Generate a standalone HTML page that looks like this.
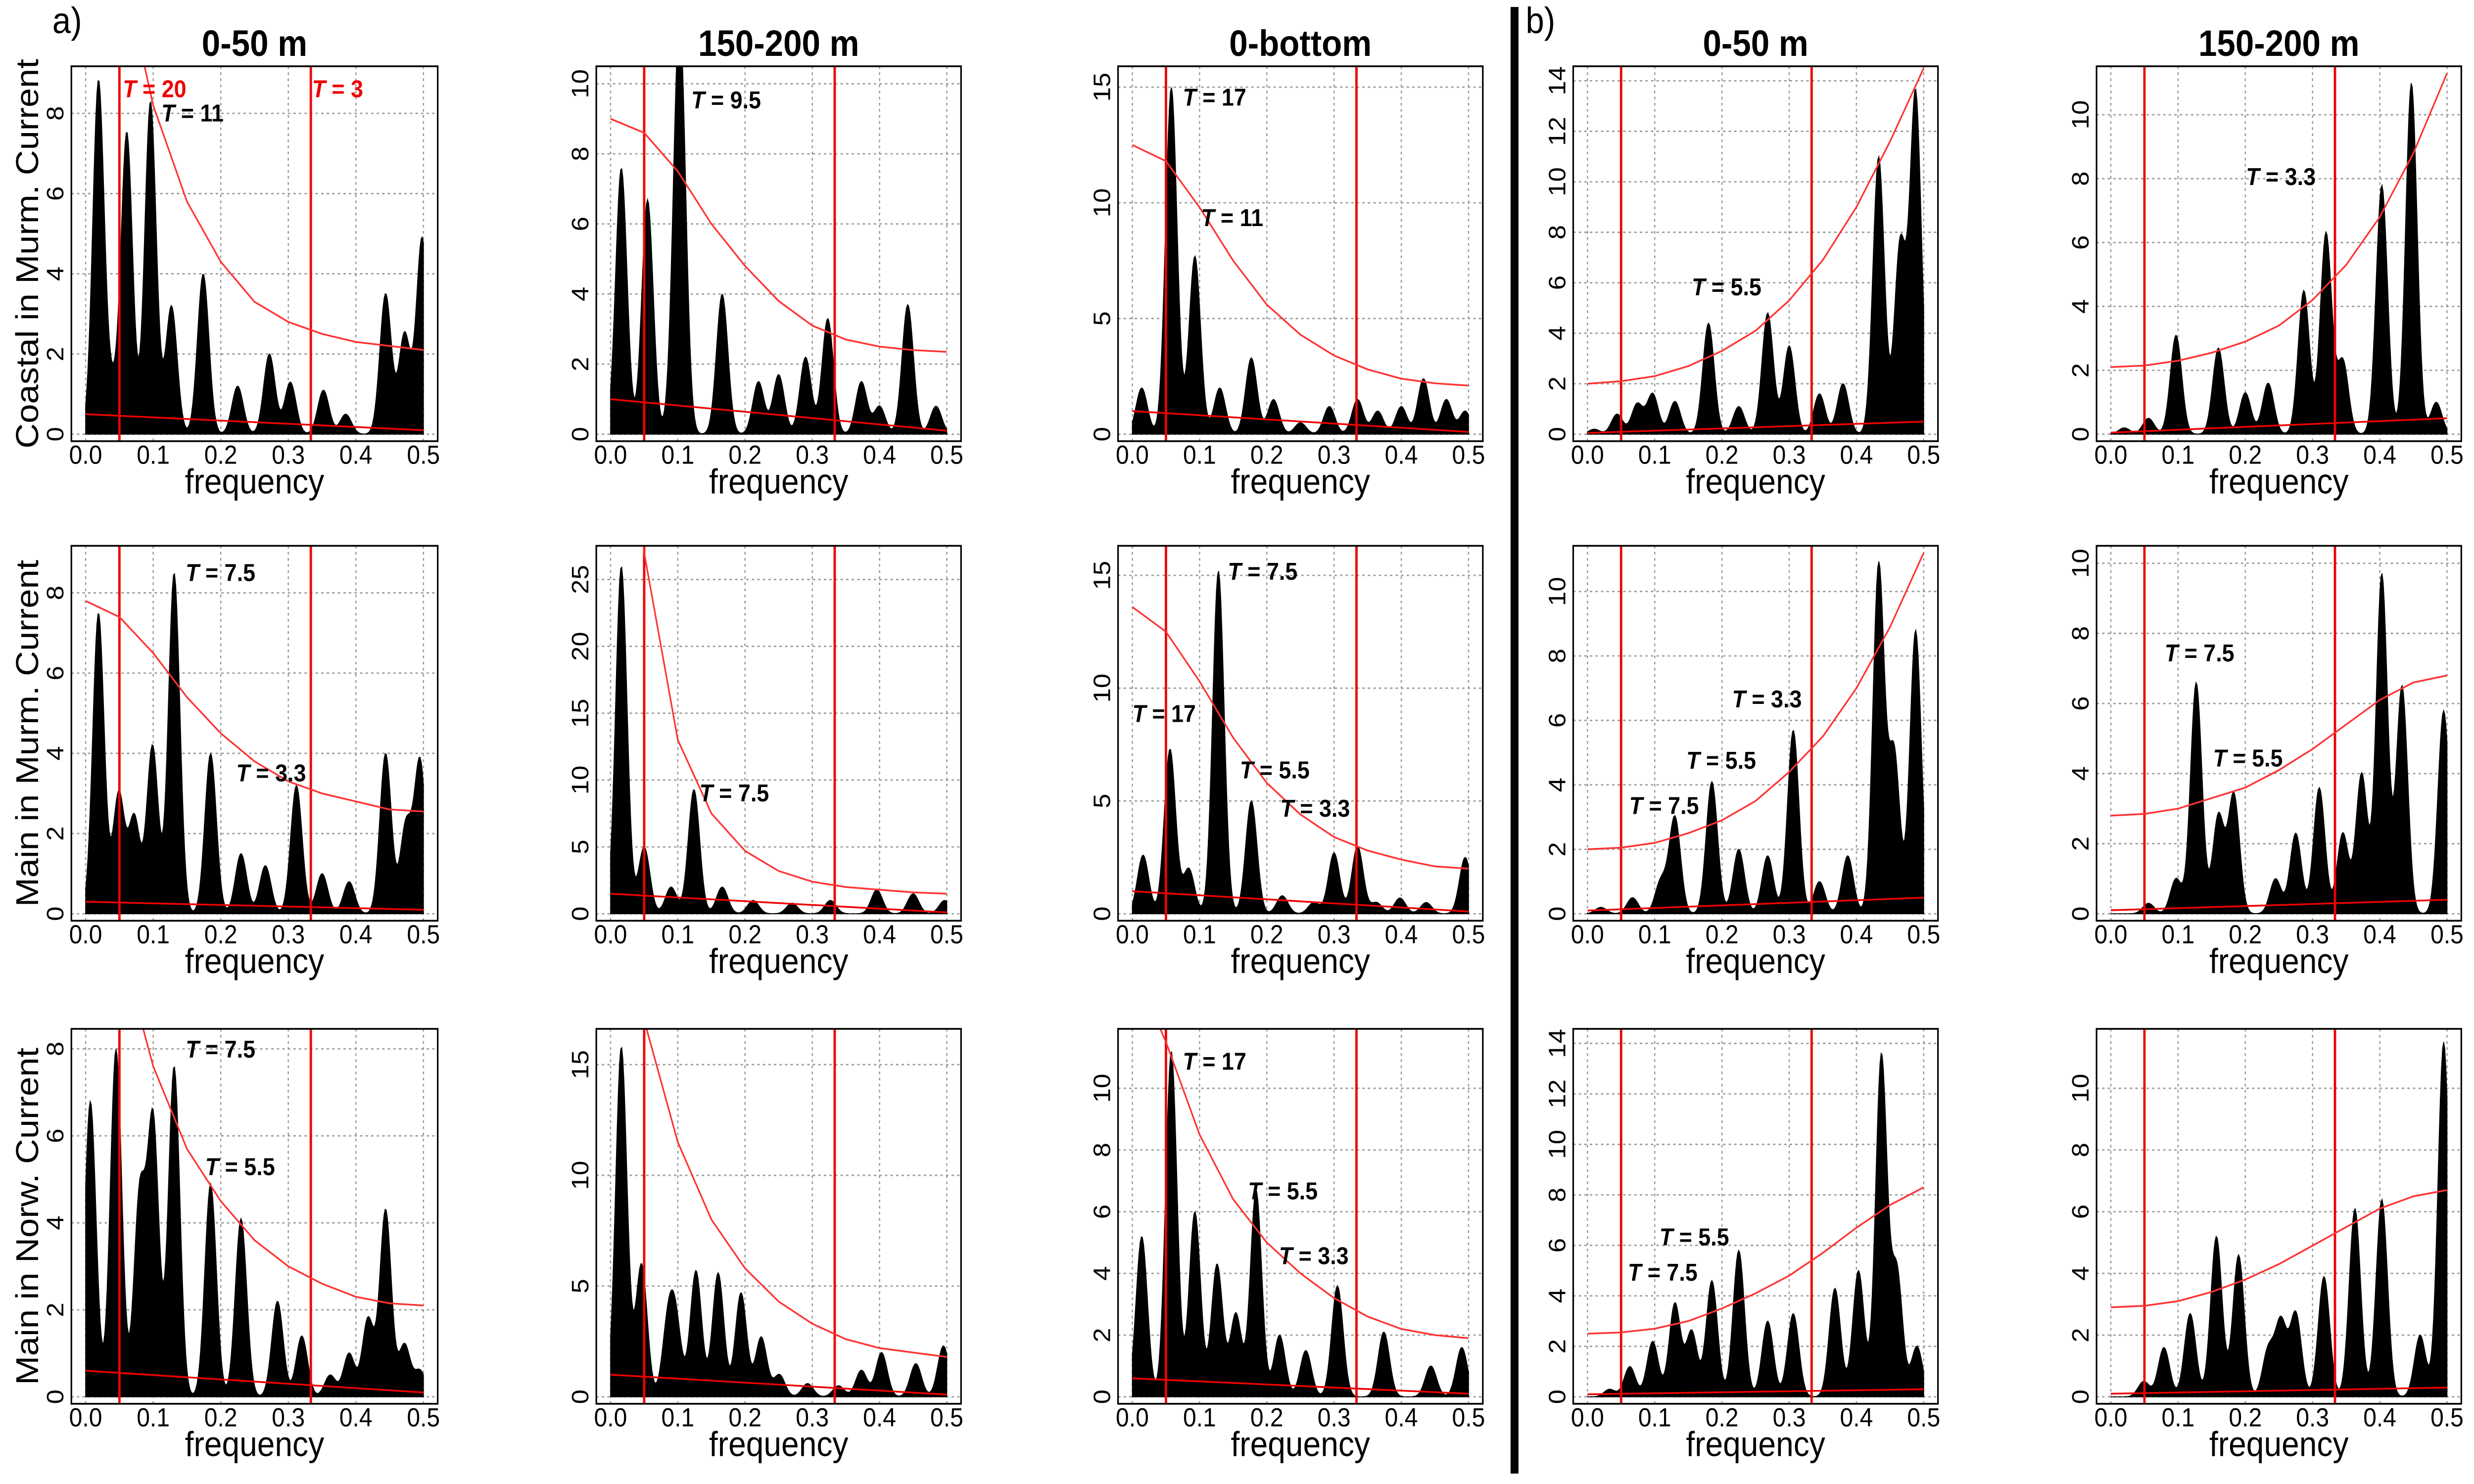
<!DOCTYPE html>
<html><head><meta charset="utf-8">
<style>
html,body{margin:0;padding:0;background:#fff;overflow:hidden;width:100%;height:100%;}
svg{display:block;width:100vw;height:100vh;}
text{font-family:"Liberation Sans",sans-serif;}
</style></head>
<body>
<svg id="fig" viewBox="0 0 1560 851" preserveAspectRatio="none" xmlns="http://www.w3.org/2000/svg">
<rect x="0" y="0" width="1560" height="851" fill="#fff"/>
<text x="33" y="19" font-size="21">a)</text>
<text x="962" y="19" font-size="21">b)</text>
<line x1="955" y1="4" x2="955" y2="845" stroke="#000" stroke-width="5"/>
</svg>
<script>
// ---- data ----
const colTitles = ["0-50 m","150-200 m","0-bottom","0-50 m","150-200 m"];
const rowTitles = ["Coastal in Murm. Current","Main in Murm. Current","Main in Norw. Current"];
const xTicks = [0,0.1,0.2,0.3,0.4,0.5];
const yMax = [[9,10.3,15.6,14.3,11.3],[9,27,16,11.2,10.3],[8.3,16.3,11.7,14.3,11.7]];
const yStep = [[2,2,5,2,2],[2,5,5,2,2],[2,5,2,2,2]];
const peakFreqs = [
 [[0.019,0.04,0.061,0.096,0.127,0.174,0.225,0.272,0.303,0.352,0.385,0.444,0.472,0.498],
  [0.016,0.055,0.097,0.104,0.166,0.22,0.25,0.29,0.323,0.373,0.40,0.442,0.484],
  [0.014,0.058,0.093,0.13,0.177,0.21,0.25,0.293,0.335,0.365,0.4,0.433,0.467,0.495],
  [0.01,0.044,0.074,0.097,0.13,0.18,0.225,0.268,0.30,0.345,0.38,0.433,0.465,0.488],
  [0.02,0.056,0.097,0.16,0.2,0.234,0.287,0.32,0.345,0.403,0.447,0.484]],
 [[0.019,0.049,0.072,0.099,0.131,0.185,0.23,0.266,0.312,0.35,0.39,0.444,0.474,0.495],
  [0.016,0.05,0.09,0.124,0.166,0.212,0.27,0.327,0.396,0.45,0.497],
  [0.016,0.056,0.084,0.128,0.177,0.223,0.27,0.3,0.335,0.363,0.398,0.437,0.495],
  [0.02,0.067,0.109,0.13,0.185,0.225,0.268,0.306,0.345,0.387,0.433,0.456,0.488],
  [0.056,0.097,0.127,0.16,0.183,0.245,0.275,0.31,0.345,0.373,0.403,0.433,0.495]],
 [[0.007,0.045,0.08,0.1,0.131,0.185,0.23,0.284,0.32,0.362,0.39,0.418,0.444,0.472,0.495],
  [0.016,0.046,0.085,0.097,0.127,0.16,0.194,0.224,0.251,0.293,0.339,0.373,0.403,0.454,0.495],
  [0.014,0.058,0.093,0.126,0.154,0.184,0.219,0.258,0.305,0.374,0.444,0.49],
  [0.033,0.063,0.097,0.13,0.155,0.185,0.225,0.268,0.306,0.368,0.403,0.437,0.46,0.49],
  [0.049,0.079,0.118,0.157,0.19,0.234,0.253,0.275,0.317,0.363,0.403,0.46,0.495]]
];
const peakHeights = [
 [[8.8,1.0,7.5,8.3,3.2,4.0,1.2,2.0,1.3,1.1,0.5,3.5,2.5,4.9],
  [7.6,6.7,3.0,9.7,4.0,1.5,1.7,2.2,3.3,1.5,0.8,3.7,0.8],
  [2.0,15.0,7.7,2.0,3.3,1.5,0.5,1.2,1.5,1.0,1.2,2.4,1.5,1.0],
  [0.2,0.8,1.2,1.6,1.3,4.4,1.1,4.8,3.5,1.6,2.0,11.0,7.5,13.5],
  [0.2,0.5,3.1,2.7,1.3,1.6,4.5,6.3,2.3,7.8,11.0,1.0]],
 [[7.5,3.0,2.4,4.2,8.5,4.0,1.5,1.2,3.2,1.0,0.8,4.0,2.2,3.8],
  [26,5.0,2.0,9.3,2.0,1.0,0.8,1.0,1.8,1.5,1.0],
  [2.6,7.3,2.0,15.2,5.0,0.8,0.5,2.7,3.0,0.5,0.7,0.5,2.5],
  [0.2,0.5,1.0,3.0,4.1,2.0,1.8,5.7,1.0,1.8,10.8,5.0,8.8],
  [0.3,1.0,6.6,2.8,3.4,1.0,2.3,3.6,2.3,4.0,9.7,6.5,5.8]],
 [[6.8,8.0,4.6,6.3,7.6,4.9,4.1,2.2,1.4,0.5,1.0,1.8,4.3,1.2,0.6],
  [15.8,6.0,3.0,3.2,5.7,5.6,4.7,2.7,1.0,0.6,0.5,1.2,2.0,1.5,2.3],
  [5.2,11.2,6.0,4.3,2.7,6.7,2.0,1.5,3.6,2.1,1.0,1.6],
  [0.3,1.2,2.2,3.7,2.6,4.6,5.8,3.0,3.3,4.3,5.0,13.5,5.0,2.0],
  [0.5,1.6,2.7,5.2,4.6,1.5,2.4,2.7,3.9,6.1,6.4,2.0,11.5]]
];
// red significance curve values at f = 0, 0.05, ..., 0.5
const redCurve = [
 [[14,12,8.2,5.8,4.3,3.3,2.8,2.5,2.3,2.2,2.1],
  [9,8.6,7.5,6,4.8,3.8,3.1,2.7,2.5,2.4,2.35],
  [12.5,11.8,9.8,7.5,5.6,4.3,3.4,2.8,2.4,2.2,2.1],
  [2.0,2.1,2.3,2.7,3.3,4.1,5.3,6.9,9.0,11.6,14.5],
  [2.1,2.15,2.3,2.55,2.9,3.4,4.2,5.3,6.8,8.8,11.3]],
 [[7.8,7.4,6.5,5.4,4.5,3.8,3.3,3.0,2.8,2.6,2.55],
  [60,27,13,7.5,4.7,3.2,2.4,2.0,1.8,1.6,1.5],
  [13.6,12.5,10.3,7.8,5.8,4.4,3.4,2.8,2.4,2.1,2.0],
  [2.0,2.05,2.2,2.5,2.9,3.5,4.4,5.5,7.0,8.9,11.2],
  [2.8,2.85,3.0,3.3,3.6,4.1,4.7,5.4,6.1,6.6,6.8]],
 [[14,10.5,7.6,5.7,4.5,3.6,3.0,2.6,2.3,2.15,2.1],
  [40,17,11.5,8,5.8,4.3,3.3,2.6,2.2,2.0,1.8],
  [14,11.5,8.5,6.4,5.0,4.0,3.2,2.6,2.2,2.0,1.9],
  [2.5,2.55,2.7,3.0,3.5,4.1,4.8,5.7,6.7,7.6,8.3],
  [2.9,2.95,3.1,3.4,3.8,4.3,4.9,5.5,6.1,6.5,6.7]]
];
const lowStart = [[0.5,1.0,1.0,0.05,0.05],[0.3,1.5,1.0,0.1,0.1],[0.6,1.0,0.6,0.1,0.1]];
const lowEnd = [[0.1,0.1,0.1,0.5,0.5],[0.1,0.1,0.1,0.5,0.4],[0.1,0.1,0.1,0.3,0.3]];
const redLines = [0.05, 1/3];
// annotations: [row,col,freq,value,text,red]
const annotations = [
 [0,0,0.055,8.4,"20",1],[0,0,0.335,8.4,"3",1],[0,0,0.112,7.8,"11",0],
 [0,1,0.12,9.3,"9.5",0],
 [0,2,0.075,14.2,"17",0],[0,2,0.102,9.0,"11",0],
 [0,3,0.155,5.5,"5.5",0],
 [0,4,0.201,7.8,"3.3",0],
 [1,0,0.148,8.3,"7.5",0],[1,0,0.223,3.3,"3.3",0],
 [1,1,0.132,8.4,"7.5",0],
 [1,2,0.142,14.8,"7.5",0],[1,2,0.0,8.5,"17",0],[1,2,0.16,6.0,"5.5",0],[1,2,0.22,4.3,"3.3",0],
 [1,3,0.215,6.4,"3.3",0],[1,3,0.147,4.5,"5.5",0],[1,3,0.062,3.1,"7.5",0],
 [1,4,0.08,7.2,"7.5",0],[1,4,0.152,4.2,"5.5",0],
 [2,0,0.148,7.8,"7.5",0],[2,0,0.177,5.1,"5.5",0],
 [2,2,0.075,10.6,"17",0],[2,2,0.172,6.4,"5.5",0],[2,2,0.218,4.3,"3.3",0],
 [2,3,0.107,6.0,"5.5",0],[2,3,0.06,4.6,"7.5",0]
];
// ---- layout ----
const colX = [[45,276],[376,606],[705,935],[992,1222],[1322,1552]];
const rowY = [[38,253],[313,528],[590,805]];
const NS = "http://www.w3.org/2000/svg";
const svg = document.getElementById('fig');
function mk(tag, attrs, parent){
  const e = document.createElementNS(NS, tag);
  for (const k in attrs) e.setAttribute(k, attrs[k]);
  (parent||svg).appendChild(e);
  return e;
}
for (let c=0;c<5;c++){
  const t = mk('text',{x:(colX[c][0]+colX[c][1])/2,y:32,'font-size':21,'font-weight':'bold','text-anchor':'middle'});
  
  
  t.textContent = colTitles[c];
}
for (let r=0;r<3;r++){
  const cy=(rowY[r][0]+rowY[r][1])/2;
  const t = mk('text',{x:0,y:0,'font-size':20,'text-anchor':'middle',transform:`translate(24,${cy}) rotate(-90)`});
  
  
  t.textContent = rowTitles[r];
}
for (let r=0;r<3;r++) for (let c=0;c<5;c++){
  const [L,R]=colX[c], [T,B]=rowY[r];
  const x0=L+9, x1=R-9, y0=B-4, y1=T+4;
  const ym=yMax[r][c];
  const sx=f=>x0+(x1-x0)*f/0.5;
  const sy=v=>y0-(y0-y1)*v/ym;
  const g = mk('g',{});
  
  
  const cid=`clip${r}${c}`;
  const cp=mk('clipPath',{id:cid},g); mk('rect',{x:L,y:T,width:R-L,height:B-T},cp);
  xTicks.forEach(f=>{
    const l=mk('line',{x1:sx(f),x2:sx(f),y1:T,y2:B,stroke:'#999','stroke-width':0.8,'stroke-dasharray':'1.5,2'},g);
    
    
    const t=mk('text',{x:sx(f),y:B+13,'font-size':15,'text-anchor':'middle'},g);
    
    
    t.textContent=f.toFixed(1);
  });
  for (let v=0; v<=ym; v+=yStep[r][c]){
    const l=mk('line',{x1:L,x2:R,y1:sy(v),y2:sy(v),stroke:'#999','stroke-width':0.8,'stroke-dasharray':'1.5,2'},g);
    
    
    const t=mk('text',{x:0,y:0,'font-size':15,'text-anchor':'middle',transform:`translate(${L-5},${sy(v)}) rotate(-90)`},g);
    
    
    t.textContent=String(v);
  }
  const xl=mk('text',{x:(L+R)/2,y:B+30,'font-size':20,'text-anchor':'middle'},g);
  
  
  xl.textContent='frequency';
  const pf=peakFreqs[r][c], ph=peakHeights[r][c];
  let d=`M${sx(0)},${sy(0)}`;
  for (let i=0;i<=300;i++){
    const f=0.5*i/300; let v=0;
    for (let k=0;k<pf.length;k++){ const s=0.0085; v+=ph[k]*Math.exp(-((f-pf[k])**2)/(2*s*s)); }
    d+=` L${sx(f).toFixed(2)},${sy(v).toFixed(2)}`;
  }
  d+=` L${sx(0.5)},${sy(0)} Z`;
  const sp=mk('path',{d:d,fill:'#000',stroke:'#000','stroke-width':0.5,'clip-path':`url(#${cid})`},g);
  
  
  redLines.forEach(f=>{
    const l=mk('line',{x1:sx(f),x2:sx(f),y1:T,y2:B,stroke:'#e00','stroke-width':1.5},g);
    
    
  });
  const rc=redCurve[r][c];
  let pts=rc.map((v,i)=>`${sx(i*0.05).toFixed(2)},${sy(v).toFixed(2)}`).join(' ');
  const pl=mk('polyline',{points:pts,fill:'none',stroke:'#f33','stroke-width':1,'clip-path':`url(#${cid})`},g);
  
  
  const lo=mk('line',{x1:sx(0),y1:sy(lowStart[r][c]),x2:sx(0.5),y2:sy(lowEnd[r][c]),stroke:'#e00','stroke-width':1},g);
  
  
  const bx=mk('rect',{x:L,y:T,width:R-L,height:B-T,fill:'none',stroke:'#000','stroke-width':1},g);
  
  
}
annotations.forEach(a=>{
  const [r,c,f,v,txt,red]=a;
  const [L,R]=colX[c],[T,B]=rowY[r];
  const x0=L+9,x1=R-9,y0=B-4,y1=T+4;
  const x=x0+(x1-x0)*f/0.5, y=y0-(y0-y1)*v/yMax[r][c];
  const t=mk('text',{x:x,y:y,'font-size':14,'font-weight':'bold',fill:red?'#e00':'#000'});
  
  
  const ti=mk('tspan',{'font-style':'italic'},t); ti.textContent='T';
  const tv=mk('tspan',{},t); tv.textContent=' = '+txt;
});
</script>
</body></html>
